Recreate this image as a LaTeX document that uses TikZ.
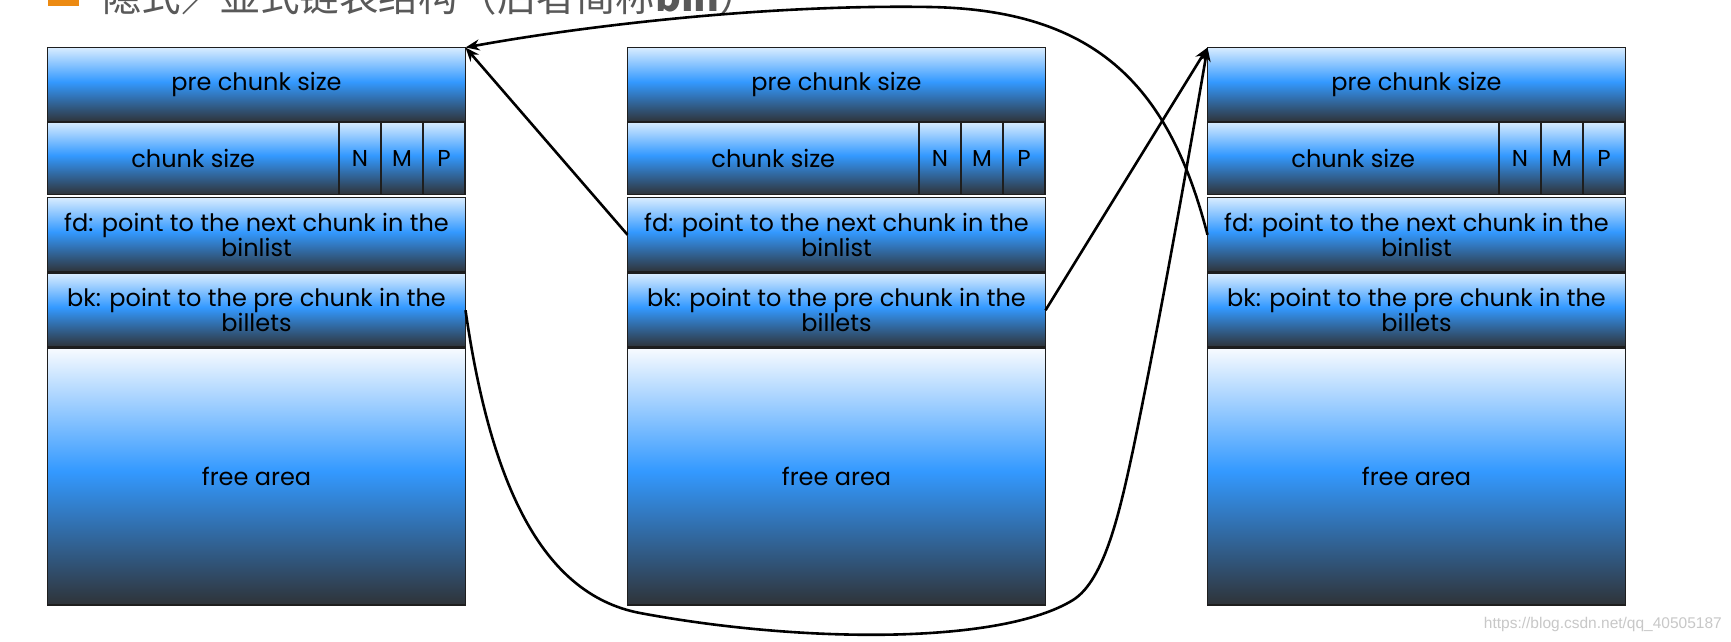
\documentclass[tikz,border=0pt]{standalone}
\usepackage{fontspec}
\setmainfont{Poppins}
\newfontfamily\cjk{Noto Sans CJK SC}
\newfontfamily\wmfont{Liberation Sans}
\usetikzlibrary{arrows.meta}
\definecolor{rowlight}{HTML}{D8ECFF}
\definecolor{rowblue}{HTML}{3399FF}
\definecolor{rowdark}{HTML}{2F3338}
\definecolor{freetop}{HTML}{F8FBFF}
\definecolor{rowline}{HTML}{1E1E1E}
\definecolor{titlegray}{HTML}{595959}
\definecolor{bulletorange}{HTML}{EC8A12}
\definecolor{wmgray}{HTML}{C8C8C8}
\pgfdeclareverticalshading{rowshade}{100bp}{color(0bp)=(rowdark); color(25bp)=(rowdark); color(52bp)=(rowblue); color(75bp)=(rowlight); color(100bp)=(rowlight)}
\pgfdeclareverticalshading{freeshade}{100bp}{color(0bp)=(rowdark); color(25bp)=(rowdark); color(51bp)=(rowblue); color(75bp)=(freetop); color(100bp)=(freetop)}
\tikzset{
  cell/.style={rectangle, draw=rowline, line width=1.2pt, shading=rowshade,
    inner sep=0pt, outer sep=0pt, anchor=north west, align=center,
    font=\fontsize{24}{25}\selectfont, text=black},
  flag/.style={cell, minimum width=42pt, minimum height=72.5pt, font=\fontsize{23}{25}\selectfont},
  freecell/.style={cell, shading=freeshade},
  link/.style={draw=black, line width=2.6pt, -{Stealth[length=14pt,width=11pt]}},
}
\begin{document}
\begin{tikzpicture}[x=1pt,y=-1pt]
\useasboundingbox (0,0) rectangle (1731,641);
\fill[white] (0,0) rectangle (1731,641);
\clip (0,0) rectangle (1731,641);
% title (cut off at the top, as in the reference)
\fill[bulletorange] (48,-30) rectangle (79,6);
\node[anchor=base west, inner sep=0pt, text=titlegray, font=\cjk\fontsize{39.5}{41}\selectfont] (title) at (102,11) {隐式／显式链表结构（后者简称\textbf{bin}）};
% boxes
\foreach \i/\x in {1/47.5, 2/627.5, 3/1207.5} {
  \node[cell, minimum width=418pt, minimum height=74.5pt] (p\i) at (\x,47.5) {pre chunk size};
  \node[cell, minimum width=291.5pt, minimum height=72.5pt] (c\i) at (\x,122) {chunk size};
  \node[flag] (n\i) at ({\x+291.5},122) {N};
  \node[flag] (m\i) at ({\x+333.5},122) {M};
  \node[flag] (pp\i) at ({\x+375.5},122) {P};
  \node[cell, minimum width=418pt, minimum height=74.5pt] (fd\i) at (\x,197.5) {fd: point to the next chunk in the\\binlist};
  \node[cell, minimum width=418pt, minimum height=73.5pt] (bk\i) at (\x,273.5) {bk: point to the pre chunk in the\\billets};
  \node[freecell, minimum width=418pt, minimum height=257pt] (fr\i) at (\x,348) {free area};
}
% connectors
\draw[link] (fd2.west) -- (p1.north east);
\draw[link] (bk2.east) -- (p3.north west);
\draw[link] (fd3.west) .. controls (1170,90) and (1100,10) .. (930,7)
   .. controls (750,4) and (560,30) .. (p1.north east);
\draw[link] (bk1.east) .. controls (490,480) and (540,594) .. (640,613)
   .. controls (800,643) and (1000,645) .. (1073,600)
   .. controls (1105,580) and (1120,510) .. (1133,450)
   .. controls (1160,320) and (1190,150) .. (p3.north west);
% watermark
\node[anchor=east, inner sep=0pt, text=wmgray, font=\wmfont\fontsize{15.5}{18}\selectfont] (wm) at (1722,624) {https://blog.csdn.net/qq\_40505187};
\end{tikzpicture}
\end{document}
